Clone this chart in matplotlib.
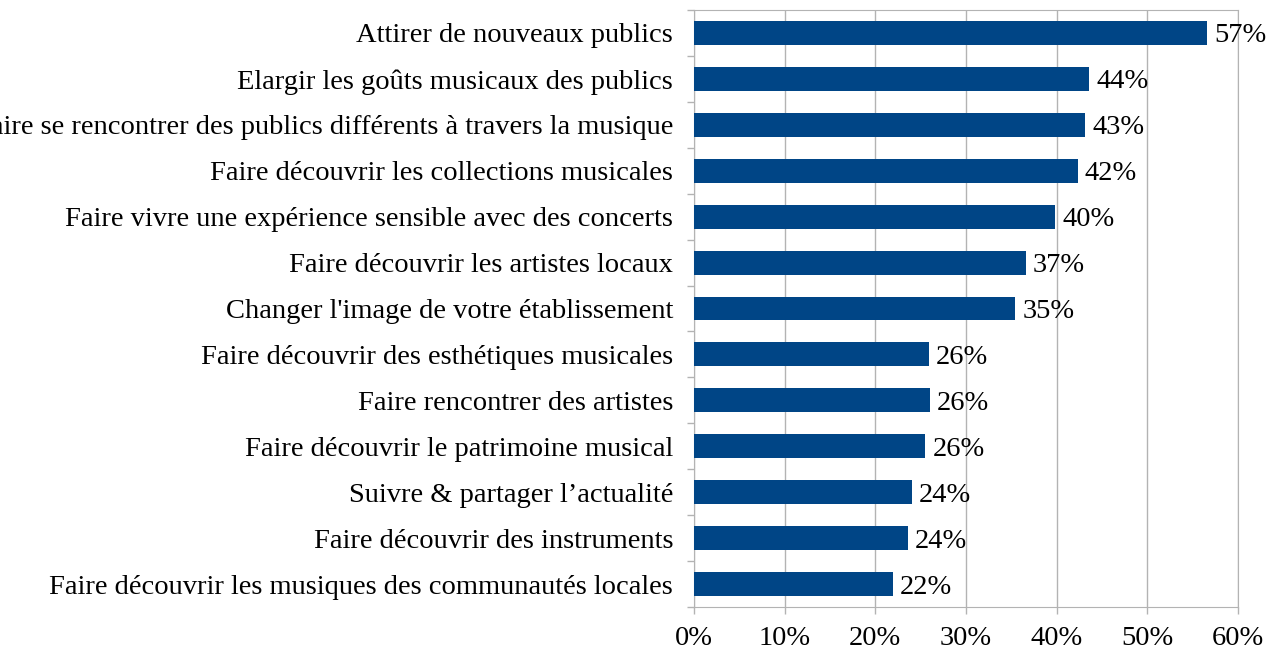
import matplotlib
matplotlib.use("Agg")
import matplotlib.pyplot as plt
from matplotlib.ticker import FuncFormatter, MultipleLocator

categories = [
    "Attirer de nouveaux publics",
    "Elargir les goûts musicaux des publics",
    "Faire se rencontrer des publics différents à travers la musique",
    "Faire découvrir les collections musicales",
    "Faire vivre une expérience sensible avec des concerts",
    "Faire découvrir les artistes locaux",
    "Changer l'image de votre établissement",
    "Faire découvrir des esthétiques musicales",
    "Faire rencontrer des artistes",
    "Faire découvrir le patrimoine musical",
    "Suivre & partager l’actualité",
    "Faire découvrir des instruments",
    "Faire découvrir les musiques des communautés locales",
]
values = [56.6, 43.6, 43.1, 42.3, 39.8, 36.6, 35.4, 25.9, 26.0, 25.5, 24.0, 23.6, 21.9]
labels = ["57%", "44%", "43%", "42%", "40%", "37%", "35%", "26%", "26%", "26%", "24%", "24%", "22%"]

plt.rcParams['font.family'] = ['Liberation Serif', 'DejaVu Serif']
FS = 20.5

fig = plt.figure(figsize=(12.67, 6.51), dpi=100)
ax = fig.add_axes([694/1267, 1 - 607/651, (1238 - 694)/1267, (607 - 10)/651])

n = len(categories)
ypos = list(range(n))
ax.barh(ypos, values, height=0.52, color='#004586', zorder=3)
ax.set_ylim(n - 0.5, -0.5)
ax.set_xlim(0, 60)
ax.xaxis.set_major_locator(MultipleLocator(10))
ax.xaxis.set_major_formatter(FuncFormatter(lambda v, p: f"{v:.0f}%"))
ax.grid(axis='x', color='#b3b3b3', linewidth=1, zorder=0)

ax.set_yticks(ypos)
ax.set_yticklabels(categories, fontsize=FS)
ax.tick_params(axis='y', length=0, pad=15)
ax.set_yticks([i - 0.5 for i in range(n + 1)], minor=True)
ax.tick_params(axis='y', which='minor', length=5, color='#b3b3b3', width=1)
ax.tick_params(axis='x', labelsize=FS, length=5, color='#b3b3b3', width=1, pad=9)

for s in ['left', 'bottom', 'right', 'top']:
    ax.spines[s].set_color('#b3b3b3')

for y, v, lab in zip(ypos, values, labels):
    ax.text(v + 0.8, y, lab, va='center_baseline', ha='left', fontsize=FS, zorder=4)

fig.savefig("out.png", dpi=100)
